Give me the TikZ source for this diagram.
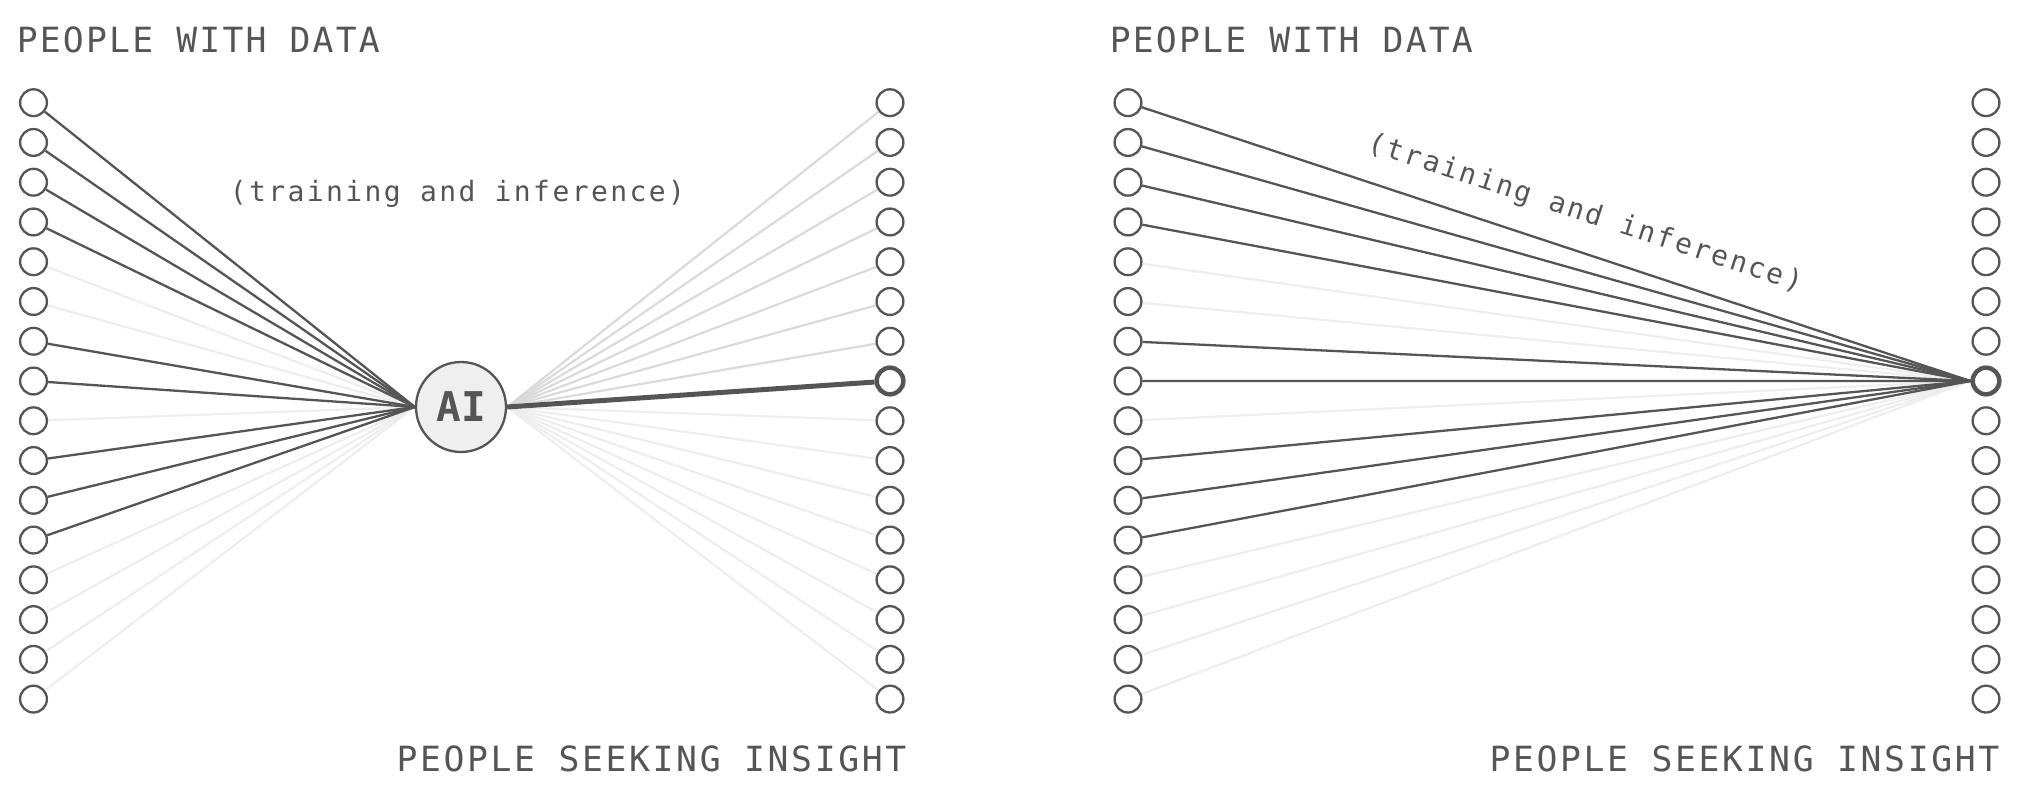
\documentclass[tikz,border=0pt]{standalone}
\usepackage{fontspec}
\setmonofont{DejaVu Sans Mono}
\newfontfamily\headfont[LetterSpace=6.4]{DejaVu Sans Mono}
\newfontfamily\footfont[LetterSpace=7.6]{DejaVu Sans Mono}
\newfontfamily\notefont[LetterSpace=8.6]{DejaVu Sans Mono}
\usetikzlibrary{backgrounds}
\tikzset{every picture/.style={line width=0.75pt}}

\begin{document}
\begin{tikzpicture}[x=0.5pt,y=-0.5pt,
	person/.style={circle,draw={rgb, 255:red, 85; green, 85; blue, 85},line width=1.15pt,minimum size=13.4pt,inner sep=0pt,fill=white},
	chosen/.style={person,line width=2.25pt,minimum size=13.3pt},
	strong/.style={draw={rgb, 255:red, 85; green, 85; blue, 85},line width=1.15pt},
	heavy/.style={draw={rgb, 255:red, 85; green, 85; blue, 85},line width=2.5pt},
	pale/.style={draw={rgb, 255:red, 218; green, 218; blue, 218},line width=1.1pt},
	faint/.style={draw={rgb, 255:red, 238; green, 238; blue, 238},line width=1.1pt},
	label/.style={text={rgb, 255:red, 85; green, 85; blue, 85},inner sep=0pt}]
	\useasboundingbox (0,0) rectangle (2022,796);
	
	%People circles, both panels
	\foreach \i [evaluate=\i as \yy using 102.7+(\i-1)*39.76] in {1,...,16} {
		\node[person] (ld\i) at (33.5,\yy) {};
		\node[person] (rd\i) at (1128,\yy) {};
	}
	\foreach \i [evaluate=\i as \yy using 102.7+(\i-1)*39.76] in {1,...,7,9,10,...,16} {
		\node[person] (ls\i) at (890,\yy) {};
		\node[person] (rs\i) at (1986,\yy) {};
	}
	\node[chosen] (ls8) at (890,381) {};
	\node[chosen] (rs8) at (1986,381) {};
	
	%AI hub
	\node[circle,draw={rgb, 255:red, 85; green, 85; blue, 85},fill={rgb, 255:red, 239; green, 239; blue, 239},line width=1.15pt,minimum size=45pt,inner sep=0pt,text={rgb, 255:red, 85; green, 85; blue, 85},font=\ttfamily\bfseries\fontsize{20.5pt}{24pt}\selectfont] (ai) at (461,407) {AI};
	
	\begin{scope}[on background layer]
		%Left panel, through the hub
		\foreach \i in {5,6,9,13,14,15,16} \draw[faint] (ld\i) -- (ai.west);
		\foreach \i in {1,2,3,4,7,8,10,11,12} \draw[strong] (ld\i) -- (ai.west);
		\foreach \i in {1,...,7} \draw[pale] (ai.east) -- (ls\i);
		\foreach \i in {9,...,16} \draw[faint] (ai.east) -- (ls\i);
		\draw[heavy] (ai.east) -- (ls8);
		%Right panel, straight to the seeker
		\foreach \i in {5,6,9,13,14,15,16} \draw[faint] (rd\i) -- (rs8.west);
		\foreach \i in {1,2,3,4,7,8,10,11,12} \draw[strong] (rd\i) -- (rs8.west);
	\end{scope}
	
	% Text Node
	\node[label,anchor=base west,font=\headfont\fontsize{17.35pt}{20pt}\selectfont] (titleL) at (16,52.7) {PEOPLE WITH DATA};
	\node[label,anchor=base west,font=\headfont\fontsize{17.35pt}{20pt}\selectfont] (titleR) at (1109,52.7) {PEOPLE WITH DATA};
	% Text Node
	\node[label,anchor=base east,font=\footfont\fontsize{17.35pt}{20pt}\selectfont] (seekL) at (907,771.5) {PEOPLE SEEKING INSIGHT};
	\node[label,anchor=base east,font=\footfont\fontsize{17.35pt}{20pt}\selectfont] (seekR) at (2000,771.5) {PEOPLE SEEKING INSIGHT};
	% Text Node
	\node[label,anchor=base,font=\notefont\fontsize{14pt}{17pt}\selectfont] (noteL) at (457.4,202) {(training and inference)};
	\node[label,anchor=center,rotate=-18,font=\notefont\fontsize{14pt}{17pt}\selectfont] (noteR) at (1585,214) {(training and inference)};
\end{tikzpicture}
\end{document}
